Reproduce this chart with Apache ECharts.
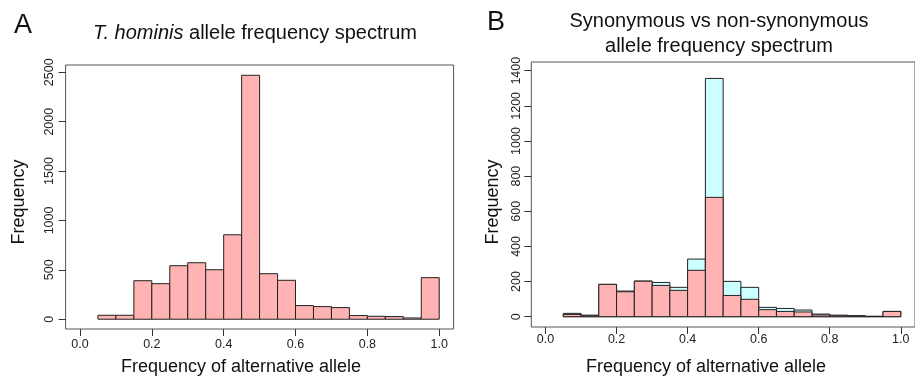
<!DOCTYPE html>
<html>
<head>
<meta charset="utf-8">
<script src="https://cdn.jsdelivr.net/npm/echarts@6/dist/echarts.min.js"></script>
<style>
  html, body { margin: 0; padding: 0; background: #fff; }
  #chart { width: 915px; height: 376px; }
</style>
</head>
<body>
<div id="chart"></div>
<script>
// histogram bin edges (alt allele frequency)
const binEdges = [0.05, 0.10, 0.15, 0.20, 0.25, 0.30, 0.35, 0.40, 0.45, 0.50,
                  0.55, 0.60, 0.65, 0.70, 0.75, 0.80, 0.85, 0.90, 0.95, 1.00];
// panel A: all sites
const allCounts = [40, 40, 390, 360, 542, 572, 501, 855, 2470, 461,
                   394, 138, 128, 118, 37, 30, 27, 13, 421];
// panel B: cyan (drawn behind) and pink (drawn in front)
const cyanCounts = [19, 8, 184, 146, 203, 195, 167, 328, 1356, 201,
                    167, 53, 47, 38, 15, 8, 6, 2, 30];
const pinkCounts = [13, 8, 184, 142, 202, 178, 150, 264, 679, 121,
                    99, 40, 30, 27, 10, 8, 4, 2, 30];
// tick labels
const xTicks = [0, 0.2, 0.4, 0.6, 0.8, 1.0];
const yTicksA = [0, 500, 1000, 1500, 2000, 2500];
const yTicksB = [0, 200, 400, 600, 800, 1000, 1200, 1400];

const FONT = "'Liberation Sans', Arial, sans-serif";
const PINK = '#ffb3b3';
const CYAN = '#ccffff';

function toBins(counts) {
  return counts.map((c, i) => [binEdges[i], binEdges[i + 1], c]);
}

function histItem(color) {
  return function (params, api) {
    const lo = api.coord([api.value(0), api.value(2)]);
    const hi = api.coord([api.value(1), 0]);
    return {
      type: 'rect',
      shape: { x: lo[0], y: lo[1], width: hi[0] - lo[0], height: hi[1] - lo[1] },
      style: { fill: color, stroke: '#222', lineWidth: 1 }
    };
  };
}

function xAxisFor(gi, min, max, margin) {
  return {
    gridIndex: gi, type: 'value', min: min, max: max,
    splitLine: { show: false },
    axisLine: { show: false, onZero: false },
    axisTick: { show: true, length: 7, customValues: xTicks, lineStyle: { color: '#333' } },
    axisLabel: {
      customValues: xTicks, margin: margin, color: '#222', fontSize: 12.5, fontFamily: FONT,
      formatter: v => v.toFixed(1)
    }
  };
}

function yAxisFor(gi, min, max, ticks, margin) {
  return {
    gridIndex: gi, type: 'value', min: min, max: max,
    splitLine: { show: false },
    axisLine: { show: false, onZero: false },
    axisTick: { show: true, length: 7, customValues: ticks, lineStyle: { color: '#333' } },
    axisLabel: {
      customValues: ticks, rotate: 90, margin: margin, color: '#222', fontSize: 12.5, fontFamily: FONT,
      formatter: v => String(v)
    }
  };
}

function label(text, x, y, size, extra) {
  return {
    type: 'text', x: x, y: y, silent: true,
    style: Object.assign({
      text: text, fill: '#111', font: size + 'px ' + FONT,
      textAlign: 'center', textVerticalAlign: 'middle'
    }, extra || {})
  };
}

const chart = echarts.init(document.getElementById('chart'), null, { renderer: 'canvas' });

chart.setOption({
  animation: false,
  grid: [
    { left: 65.6, top: 65, width: 388, height: 264, show: true, borderColor: '#555', borderWidth: 1 },
    { left: 531.3, top: 62, width: 385.6, height: 265, show: true, borderColor: '#555', borderWidth: 1 }
  ],
  xAxis: [
    xAxisFor(0, -0.04, 1.04, 9),
    xAxisFor(1, -0.04, 1.04, 6)
  ],
  yAxis: [
    yAxisFor(0, -99, 2574, yTicksA, 10),
    yAxisFor(1, -58.6, 1449.5, yTicksB, 8)
  ],
  series: [
    {
      type: 'custom', xAxisIndex: 0, yAxisIndex: 0,
      renderItem: histItem(PINK), data: toBins(allCounts)
    },
    {
      type: 'custom', xAxisIndex: 1, yAxisIndex: 1,
      renderItem: histItem(CYAN), data: toBins(cyanCounts)
    },
    {
      type: 'custom', xAxisIndex: 1, yAxisIndex: 1,
      renderItem: histItem(PINK), data: toBins(pinkCounts)
    }
  ],
  graphic: [
    label('A', 23, 26, 27),
    label('B', 496, 23, 27),
    label('{i|T. hominis} allele frequency spectrum', 255, 33, 20, {
      rich: { i: { fontStyle: 'italic', fontSize: 20, fontFamily: FONT, fill: '#111' } }
    }),
    label('Synonymous vs non-synonymous', 719, 21.5, 20),
    label('allele frequency spectrum', 719, 46, 20),
    label('Frequency of alternative allele', 241, 367, 18),
    label('Frequency of alternative allele', 706, 367, 18),
    Object.assign(label('Frequency', 19, 202, 18), { rotation: Math.PI / 2 }),
    Object.assign(label('Frequency', 493, 202, 18), { rotation: Math.PI / 2 })
  ]
});
</script>
</body>
</html>
